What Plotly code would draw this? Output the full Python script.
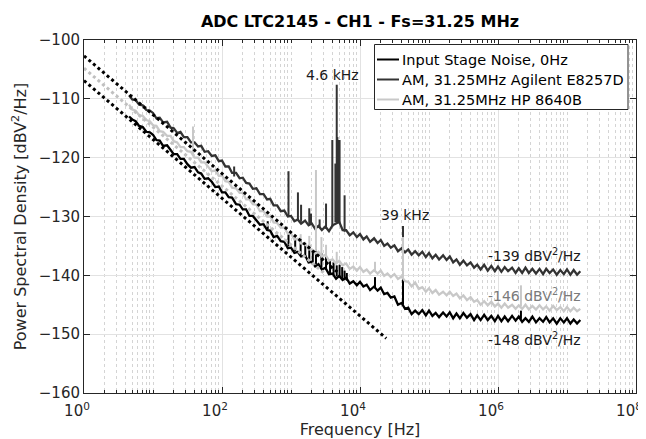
import math
import plotly.graph_objects as go

# -----------------------------
# 1) Data (frequency in Hz, level in dBV^2/Hz)
# -----------------------------
freq_hz = [
    4.5, 5, 5.6, 6.3, 7.1, 8, 9,
    10, 11.2, 12.5, 14, 16, 18, 20, 22.4, 25, 28, 31.5, 35.5, 40, 45, 50, 56, 63, 71, 80, 90,
    100, 112, 125, 140, 160, 180, 200, 224, 250, 280, 315, 355, 400, 450, 500, 560, 630, 710, 800, 900,
    1e3, 1.12e3, 1.25e3, 1.4e3, 1.6e3, 1.8e3, 2e3, 2.24e3, 2.5e3, 2.8e3, 3.15e3, 3.55e3, 4e3, 4.5e3, 5e3, 5.6e3, 6.3e3, 7.1e3, 8e3, 9e3,
    1e4, 1.12e4, 1.25e4, 1.4e4, 1.6e4, 1.8e4, 2e4, 2.24e4, 2.5e4, 2.8e4, 3.15e4, 3.55e4, 4e4, 4.5e4, 5e4, 5.6e4, 6.3e4, 7.1e4, 8e4, 9e4,
    1e5, 1.12e5, 1.25e5, 1.4e5, 1.6e5, 1.8e5, 2e5, 2.24e5, 2.5e5, 2.8e5, 3.15e5, 3.55e5, 4e5, 4.5e5, 5e5, 5.6e5, 6.3e5, 7.1e5, 8e5, 9e5,
    1e6, 1.12e6, 1.25e6, 1.4e6, 1.6e6, 1.8e6, 2e6, 2.24e6, 2.5e6, 2.8e6, 3.15e6, 3.55e6, 4e6, 4.5e6, 5e6, 5.6e6, 6.3e6, 7.1e6, 8e6, 9e6,
    1e7, 1.12e7, 1.25e7, 1.4e7, 1.56e7,
]

input_noise_db = [
    -113.0, -113.5, -113.8, -114.6, -114.8, -115.6, -115.7,
    -116.1, -117.0, -117.1, -118.0, -117.9, -118.7, -119.4, -119.4, -120.2, -120.2, -121.1, -121.7, -121.6, -122.5, -122.7, -123.6, -123.5, -124.1, -125.0, -124.9,
    -125.9, -125.9, -126.7, -126.8, -127.9, -128.0, -128.8, -128.8, -129.9, -129.9, -130.6, -131.4, -131.3, -132.3, -132.4, -133.5, -133.3, -134.2, -134.3, -135.4,
    -135.3, -136.2, -136.0, -136.8, -136.6, -137.8, -137.7, -138.5, -138.1, -139.0, -138.7, -139.8, -139.7, -140.6, -140.1, -140.8, -140.4, -141.4, -141.0, -141.7,
    -141.1, -141.9, -141.6, -142.5, -141.9, -142.6, -142.1, -143.2, -143.0, -143.8, -143.6, -145.0, -144.7, -145.7, -145.5, -146.6, -146.0, -146.6, -145.9, -146.8,
    -146.0, -146.9, -146.4, -147.1, -146.3, -147.0, -146.3, -147.3, -146.5, -147.3, -146.4, -147.2, -146.6, -147.6, -146.8, -147.6, -146.7, -147.6, -146.9, -147.8,
    -146.9, -147.8, -147.0, -147.8, -146.9, -147.7, -147.0, -147.9, -147.3, -147.9, -147.0, -148.0, -147.3, -147.9, -147.1, -148.0, -147.3, -148.2, -147.3, -148.0,
    -147.3, -148.2, -147.5, -148.2, -147.6,
]

agilent_db = [
    -109.4, -110.1, -110.2, -111.0, -111.1, -111.9, -112.0,
    -112.4, -113.3, -113.2, -114.0, -113.9, -114.9, -115.0, -115.8, -115.6, -116.5, -116.5, -117.4, -117.4, -118.1, -118.0, -119.0, -118.9, -119.7, -119.6, -120.6,
    -120.5, -121.5, -121.5, -122.6, -122.6, -123.5, -123.4, -124.3, -124.4, -125.3, -125.2, -126.2, -126.2, -127.1, -127.0, -128.1, -128.1, -129.1, -129.0, -130.0,
    -129.9, -130.8, -130.5, -131.2, -130.7, -131.5, -131.2, -132.1, -131.6, -132.3, -131.7, -132.5, -131.5, -131.2, -130.9, -132.3, -132.3, -133.2, -132.7, -133.5,
    -133.0, -133.9, -133.4, -134.3, -133.7, -134.5, -134.0, -135.0, -134.6, -135.3, -134.9, -135.9, -135.4, -136.1, -135.6, -136.5, -135.9, -136.6, -136.0, -136.9,
    -136.2, -137.1, -136.5, -137.3, -136.6, -137.4, -136.8, -137.8, -137.3, -138.2, -137.5, -138.3, -137.8, -138.7, -138.2, -139.0, -138.2, -139.2, -138.4, -139.3,
    -138.5, -139.4, -138.6, -139.3, -138.7, -139.6, -138.8, -139.6, -138.7, -139.6, -138.9, -139.7, -138.9, -139.8, -138.9, -139.6, -139.0, -139.9, -139.1, -139.8,
    -139.0, -139.9, -139.1, -139.9, -139.3,
]

hp_db = [
    -111.0, -111.8, -112.0, -112.8, -112.9, -113.6, -113.8,
    -114.5, -114.6, -115.5, -115.6, -116.3, -116.3, -117.2, -117.4, -118.2, -118.2, -118.9, -119.0, -120.0, -120.0, -120.8, -120.8, -121.6, -122.3, -122.2, -123.1,
    -123.0, -124.0, -124.1, -125.1, -125.2, -126.0, -126.0, -127.1, -127.1, -127.9, -128.0, -129.1, -129.1, -130.0, -130.0, -131.0, -131.1, -131.9, -131.9, -132.9,
    -132.9, -133.9, -133.8, -134.6, -134.5, -135.6, -135.6, -136.3, -136.0, -136.8, -136.5, -137.5, -137.3, -138.0, -137.5, -138.3, -138.0, -138.9, -138.5, -139.2,
    -138.6, -139.4, -139.0, -139.7, -139.1, -139.7, -139.2, -140.1, -139.7, -140.3, -139.8, -140.6, -140.2, -141.0, -141.1, -141.9, -141.2, -142.3, -142.0, -142.8,
    -142.2, -143.0, -142.5, -143.3, -142.8, -143.4, -142.8, -143.5, -143.1, -143.9, -143.4, -144.2, -143.7, -144.5, -144.2, -145.0, -144.4, -145.1, -144.5, -145.3,
    -144.8, -145.5, -144.8, -145.5, -145.0, -145.7, -145.1, -145.7, -145.0, -145.8, -145.2, -145.8, -145.1, -145.8, -145.3, -146.0, -145.2, -145.9, -145.4, -146.1,
    -145.4, -146.1, -145.5, -146.1, -145.7,
]

# spurs: frequency, floor under the spur, top of the spur
input_spur_f = [460, 920, 1150, 1380, 1610, 1840, 2070, 2300, 2760, 3220, 3680, 4140, 4600, 5060, 5520, 5980, 6440, 16500, 42000, 2.15e6]
input_spur_base = [-132.2, -135.1, -135.9, -136.5, -137.0, -137.5, -137.8, -138.1, -138.7, -139.1, -139.6, -139.9, -140.2, -140.4, -140.6, -140.8, -140.9, -142.2, -145.0, -147.4]
input_spur_peak = [-130.8, -133.0, -134.0, -133.8, -135.0, -134.8, -135.8, -135.5, -136.2, -136.8, -137.3, -137.8, -138.3, -138.2, -138.6, -139.2, -139.6, -140.3, -140.5, -146.0]

agilent_spur_f = [150, 920, 1260, 1400, 1840, 1950, 2600, 3220, 3970, 4400, 4600, 4700, 4800, 4950, 5060, 5980, 42000]
agilent_spur_base = [-123.2, -129.9, -130.6, -130.9, -131.3, -131.4, -131.8, -132.1, -131.8, -131.0, -131.0, -131.0, -131.0, -131.1, -131.2, -132.6, -135.7]
agilent_spur_peak = [-121.5, -122.3, -125.9, -128.0, -128.6, -129.5, -130.5, -127.8, -117.0, -121.0, -107.6, -116.5, -117.0, -118.5, -117.0, -126.4, -131.6]

hp_spur_f = [38, 1380, 1840, 2300, 2760, 3220, 4600, 16500, 42000, 2.15e6]
hp_spur_base = [-119.4, -134.3, -135.1, -135.9, -136.5, -136.9, -137.8, -139.4, -140.4, -145.3]
hp_spur_peak = [-114.7, -133.0, -133.3, -122.1, -133.5, -134.8, -136.0, -137.7, -133.5, -141.7]

# 1/f guide lines (end points)
fit_top_f = [1, 5000]
fit_top_db = [-102.7, -139.7]
fit_mid_f = [1, 3000]
fit_mid_db = [-104.8, -139.6]
fit_low_f = [1, 24000]
fit_low_db = [-106.9, -150.7]

series_names = ["Input Stage Noise, 0Hz", "AM, 31.25MHz Agilent E8257D", "AM, 31.25MHz HP 8640B"]
series_colors = ["#000000", "#333333", "#c8c8c8"]

x_tick_vals = [1, 1e2, 1e4, 1e6, 1e8]
x_tick_text = ["10<sup>0</sup>", "10<sup>2</sup>", "10<sup>4</sup>", "10<sup>6</sup>", "10<sup>8</sup>"]

# -----------------------------
# 2) Layout constants (pixels)
# -----------------------------
W, H = 646, 439
ML, MR, MT, MB = 76, 18, 32, 54
PW, PH = W - ML - MR, H - MT - MB


def px_x(x):
    return (x - ML) / PW


def px_y(y):
    return 1 - (y - MT) / PH


def spur_segments(fs, base, peak):
    xs, ys = [], []
    for f, b, p in zip(fs, base, peak):
        xs += [f, f, None]
        ys += [b, p, None]
    return xs, ys


# -----------------------------
# 3) Build figure
# -----------------------------
fig = go.Figure()

levels = [input_noise_db, agilent_db, hp_db]
spurs = [
    (input_spur_f, input_spur_base, input_spur_peak),
    (agilent_spur_f, agilent_spur_base, agilent_spur_peak),
    (hp_spur_f, hp_spur_base, hp_spur_peak),
]

for name, color, lv, sp in zip(series_names, series_colors, levels, spurs):
    fig.add_trace(go.Scatter(x=freq_hz, y=lv, mode="lines", name=name, showlegend=False,
                             line=dict(color=color, width=2.3)))
    sx, sy = spur_segments(*sp)
    fig.add_trace(go.Scatter(x=sx, y=sy, mode="lines", showlegend=False,
                             line=dict(color=color, width=2)))

for fx, fy, col in [(fit_top_f, fit_top_db, "#000000"),
                    (fit_mid_f, fit_mid_db, "#c0c0c0"),
                    (fit_low_f, fit_low_db, "#000000")]:
    fig.add_trace(go.Scatter(x=fx, y=fy, mode="lines", showlegend=False,
                             line=dict(color=col, width=3, dash="dot")))

annots = [
    ("4.6 kHz", 3930, -106.0, "center", "#1a1a1a"),
    ("39 kHz", 44400, -129.8, "center", "#1a1a1a"),
    ("-139 dBV<sup>2</sup>/Hz", 1.7e7, -136.6, "right", "#1a1a1a"),
    ("-146 dBV<sup>2</sup>/Hz", 1.7e7, -143.4, "right", "#7a7a7a"),
    ("-148 dBV<sup>2</sup>/Hz", 1.7e7, -150.8, "right", "#1a1a1a"),
]
for txt, fx, fy, anchor, col in annots:
    fig.add_annotation(x=math.log10(fx), y=fy, text=txt, showarrow=False,
                       xanchor=anchor, yanchor="middle",
                       font=dict(size=14, color=col, family="DejaVu Sans"))

# legend box drawn by hand (MATLAB-style compact rows)
fig.add_shape(type="rect", xref="paper", yref="paper", layer="above",
              x0=px_x(366.5), x1=px_x(620), y0=px_y(101.5), y1=px_y(36.5),
              line=dict(color="#262626", width=1), fillcolor="white")
for i, (name, color) in enumerate(zip(series_names, series_colors)):
    row_y = px_y(51.5 + 20 * i)
    fig.add_shape(type="line", xref="paper", yref="paper", layer="above",
                  x0=px_x(369), x1=px_x(391), y0=row_y, y1=row_y,
                  line=dict(color=color, width=2))
    fig.add_annotation(xref="paper", yref="paper", x=px_x(392), y=row_y, text=name,
                       showarrow=False, xanchor="left", yanchor="middle",
                       font=dict(size=14.5, color="#000000", family="DejaVu Sans"))

# minor ticks: odd decades and 2..9 inside each decade
minor_vals = [m * 10 ** d for d in range(8) for m in range(2, 10)] + [10, 1e3, 1e5, 1e7]

fig.update_layout(
    width=W, height=H,
    margin=dict(l=ML, r=MR, t=MT, b=MB),
    plot_bgcolor="white", paper_bgcolor="white",
    font=dict(family="DejaVu Sans", size=15, color="#262626"),
    title=dict(text="<b>ADC LTC2145 - CH1 - Fs=31.25 MHz</b>", x=0.5, xref="paper",
               y=1 - 13.5 / H, yanchor="middle", font=dict(size=16, color="#000000")),
    showlegend=False,
)

fig.update_xaxes(
    type="log", range=[0, 8], automargin=False,
    tickvals=x_tick_vals, ticktext=x_tick_text,
    ticks="inside", ticklen=6, tickcolor="#262626",
    ticklabelstandoff=4, ticklabelshift=-7,
    showline=True, linecolor="#262626", linewidth=1, mirror="allticks",
    showgrid=True, gridcolor="#e2e2e2", zeroline=False,
    minor=dict(tickvals=minor_vals, ticks="inside", ticklen=3, tickcolor="#262626",
               showgrid=True, gridcolor="#d4d4d4", griddash="dot"),
    title=dict(text="Frequency [Hz]", font=dict(size=16), standoff=2),
    tickfont=dict(size=15),
)
fig.update_yaxes(
    range=[-160, -100], tick0=-160, dtick=10, automargin=False,
    ticks="inside", ticklen=6, tickcolor="#262626",
    showline=True, linecolor="#262626", linewidth=1, mirror="allticks",
    showgrid=True, gridcolor="#e2e2e2", zeroline=False,
    title=dict(text="Power Spectral Density [dBV<sup>2</sup>/Hz]", font=dict(size=16), standoff=8),
    tickfont=dict(size=15),
)

fig.write_html("out.html")
